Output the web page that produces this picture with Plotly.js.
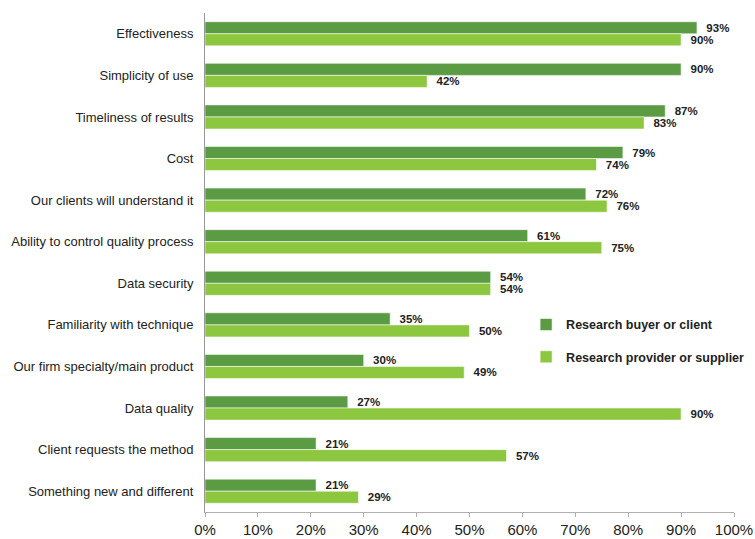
<!DOCTYPE html>
<html>
<head>
<meta charset="utf-8">
<script src="https://cdn.plot.ly/plotly-3.0.1.min.js"></script>
<style>html,body{margin:0;padding:0;background:#fff;}#chart{width:755px;height:539px;}</style>
</head>
<body>
<div id="chart"></div>
<script>
const categories = ["Effectiveness","Simplicity of use","Timeliness of results","Cost","Our clients will understand it","Ability to control quality process","Data security","Familiarity with technique","Our firm specialty/main product","Data quality","Client requests the method","Something new and different"];
const buyerValues = [93,90,87,79,72,61,54,35,30,27,21,21];
const providerValues = [90,42,83,74,76,75,54,50,49,90,57,29];
const seriesNames = ["Research buyer or client","Research provider or supplier"];
const tickVals = [0,10,20,30,40,50,60,70,80,90,100];
const tickText = tickVals.map(v => v + "%");

const labelFont = {family:"Liberation Sans, Arial, sans-serif", size:11.5, color:"#222", weight:"bold"};
function mk(name, vals, color, group){
  return {
    type:"bar", orientation:"h", name:name, y:categories, x:vals,
    marker:{color:color, line:{color:"rgba(255,255,255,0.55)", width:1}},
    text: vals.map(v => "\u00a0\u00a0<b>" + v + "%</b>"), textposition:"outside",
    textfont: labelFont, cliponaxis:false, legendgroup:group,
    hoverinfo:"x+y"
  };
}
const data = [
  mk(seriesNames[0], buyerValues, "#5a9b44", "a"),
  mk(seriesNames[1], providerValues, "#8dc63f", "b")
];
const layout = {
  width:755, height:539,
  margin:{l:205, r:21, t:13, b:27, autoexpand:false},
  paper_bgcolor:"#fff", plot_bgcolor:"#fff",
  barmode:"group", bargap:0.42, bargroupgap:0,
  font:{family:"Liberation Sans, Arial, sans-serif", color:"#222"},
  xaxis:{range:[0,100], tickvals:tickVals, ticktext:tickText, showgrid:false, zeroline:false,
    showline:true, linecolor:"#b0b0b0", linewidth:1, ticks:"outside", ticklen:4, tickcolor:"#b0b0b0",
    tickfont:{size:15, color:"#222"}, automargin:false},
  yaxis:{autorange:"reversed", showgrid:false, zeroline:false, showline:true, linecolor:"#999",
    linewidth:1, ticks:"", tickfont:{size:13, color:"#222"}, ticklabelstandoff:8, automargin:false},
  legend:{x:0.607, y:0.405, xanchor:"left", yanchor:"top", traceorder:"grouped", tracegroupgap:13,
    font:{size:12.5, color:"#222", weight:"bold"}, bgcolor:"rgba(0,0,0,0)", itemwidth:30},
  showlegend:true
};
Plotly.newPlot("chart", data, layout, {displayModeBar:false, staticPlot:true});
</script>
</body>
</html>
